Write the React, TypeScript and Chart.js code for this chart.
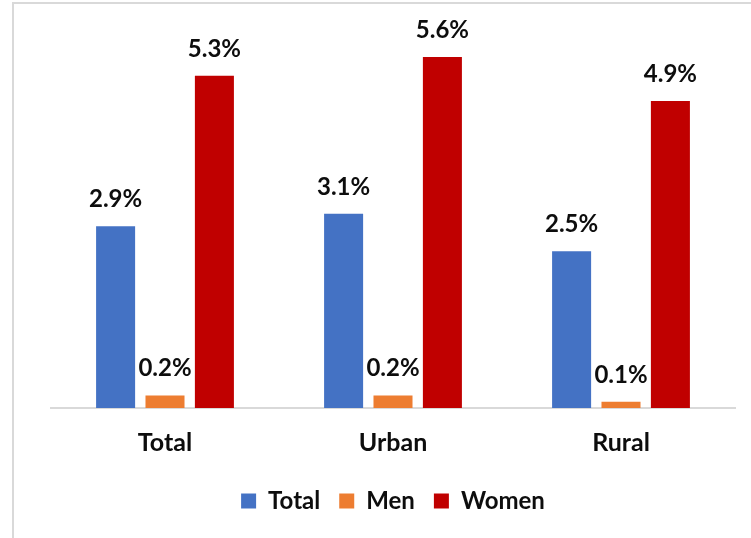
import React, { useEffect, useRef } from "react";
import { Chart, registerables } from "chart.js";

Chart.register(...registerables);

const categories = ["Total", "Urban", "Rural"];
const seriesNames = ["Total", "Men", "Women"];
const totalValues = [2.9, 3.1, 2.5];
const menValues = [0.2, 0.2, 0.1];
const womenValues = [5.3, 5.6, 4.9];
const seriesColors = ["#4472C4", "#ED7D31", "#C00000"];

const FONT = "Lato, 'Open Sans', sans-serif";

const labelPlugin = {
  id: "barLabels",
  afterDatasetsDraw(chart: any) {
    const ctx = chart.ctx;
    ctx.save();
    ctx.font = `bold 24px ${FONT}`;
    ctx.fillStyle = "#0d0d0d";
    ctx.textAlign = "center";
    ctx.textBaseline = "alphabetic";
    chart.data.datasets.forEach((ds: any, i: number) => {
      const meta = chart.getDatasetMeta(i);
      meta.data.forEach((bar: any, j: number) => {
        const v = ds.data[j];
        ctx.fillText(v.toFixed(1) + "%", bar.x, bar.y - 19);
      });
    });
    ctx.restore();
  },
};

export default function App() {
  const ref = useRef<HTMLCanvasElement>(null);
  useEffect(() => {
    document.body.style.margin = "0";
    const chart = new Chart(ref.current!, {
      type: "bar",
      data: {
        labels: categories,
        datasets: [totalValues, menValues, womenValues].map((d, i) => ({
          label: seriesNames[i],
          data: d,
          backgroundColor: seriesColors[i],
          categoryPercentage: 0.65,
          barPercentage: 0.79,
        })),
      },
      options: {
        animation: false,
        responsive: false,
        maintainAspectRatio: false,
        layout: { padding: { left: 51, right: 16, top: 32, bottom: 15 } },
        scales: {
          y: { display: false, min: 0, max: 6 },
          x: {
            grid: { display: false },
            border: { color: "#d9d9d9", width: 2 },
            ticks: {
              color: "#0d0d0d",
              font: { family: FONT, size: 25, weight: "bold" },
              padding: 12,
            },
          },
        },
        plugins: {
          legend: {
            position: "bottom",
            labels: {
              boxWidth: 15,
              boxHeight: 15,
              color: "#0d0d0d",
              padding: 19,
              font: { family: FONT, size: 24, weight: "bold" },
            },
          },
          tooltip: { enabled: false },
        },
      },
      plugins: [labelPlugin],
    });
    return () => chart.destroy();
  }, []);
  return (
    <div style={{ position: "fixed", left: 0, top: 0, width: 751, height: 538, background: "#fff", overflow: "hidden" }}>
      <div
        style={{
          position: "absolute",
          left: 12,
          top: 2,
          width: 800,
          height: 600,
          borderLeft: "2px solid #d9d9d9",
          borderTop: "2px solid #d9d9d9",
        }}
      />
      <canvas ref={ref} width={751} height={538} style={{ position: "absolute", left: 0, top: 0 }} />
    </div>
  );
}
